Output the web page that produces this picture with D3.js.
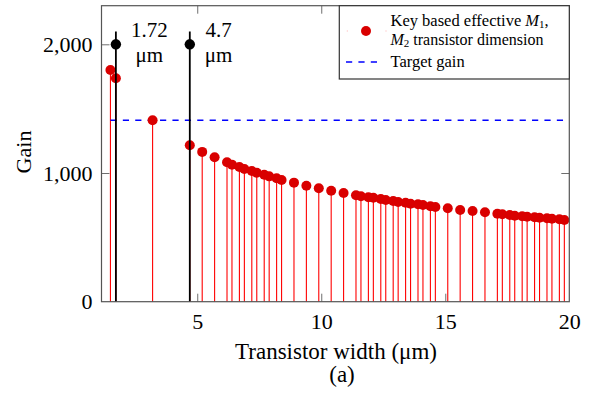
<!DOCTYPE html>
<html>
<head>
<meta charset="utf-8">
<script src="https://cdn.jsdelivr.net/npm/d3@7"></script>
<style>
  body { margin: 0; background: #fff; }
  svg { display: block; }
  text { font-family: "Liberation Serif", "Times New Roman", serif; fill: #000; }
</style>
</head>
<body>
<div class="chart"></div>
<script>
// transistor widths (um) and gains
const widths = [1.5, 1.72, 3.2, 4.7, 5.2, 5.7, 6.2, 6.4, 6.7, 6.9, 7.2, 7.4, 7.7, 7.9, 8.2, 8.4,
  8.9, 9.4, 9.9, 10.4, 10.9, 11.4, 11.6, 11.9, 12.1, 12.4, 12.6, 12.9, 13.1, 13.4, 13.6, 13.9,
  14.1, 14.4, 14.6, 15.1, 15.6, 16.1, 16.6, 17.1, 17.3, 17.6, 17.8, 18.1, 18.3, 18.6, 18.8,
  19.1, 19.3, 19.6, 19.8];
const gains = [1800, 1736, 1410, 1215, 1164, 1122, 1083, 1065, 1047, 1031, 1016, 1002, 987, 974, 959, 946,
  925, 901, 881, 862, 845, 827, 819, 811, 808, 798, 790, 782, 775, 769, 761, 757,
  751, 741, 736, 726, 713, 705, 695, 684, 679, 674, 668, 664, 660, 656, 653,
  648, 645, 640, 635];
const targetGain = 1410;
// chosen widths (black stems)
const keyWidths = [1.72, 4.7];
const keyLabels = ['1.72', '4.7'];
const keyMarkGain = 2000;
const keyStemTop = 2100;
const xTicks = [5, 10, 15, 20];
const yTicks = [0, 1000, 2000];

const W = 589, H = 393;
const mLeft = 101.5, mRight = 569.3, mTop = 5.7, mBottom = 301.7;

const svg = d3.select('.chart').append('svg').attr('width', W).attr('height', H);

const x = d3.scaleLinear().domain([1.14, 20]).range([mLeft, mRight]);
const y = d3.scaleLinear().domain([0, 2300]).range([mBottom, mTop]);

const data = widths.map((w, i) => ({w: w, g: gains[i]}));

// red stems
svg.append('g').selectAll('line').data(data).enter().append('line')
  .attr('x1', d => x(d.w)).attr('x2', d => x(d.w))
  .attr('y1', y(0)).attr('y2', d => y(d.g))
  .attr('stroke', '#ff0000').attr('stroke-width', 1.1);

// target gain line
svg.append('line')
  .attr('x1', x(widths[0])).attr('x2', x(widths[widths.length - 1]))
  .attr('y1', y(targetGain)).attr('y2', y(targetGain))
  .attr('stroke', '#0000ff').attr('stroke-width', 1.5)
  .attr('stroke-dasharray', '6.2,6.2');

// red markers
svg.append('g').selectAll('circle').data(data).enter().append('circle')
  .attr('cx', d => x(d.w)).attr('cy', d => y(d.g)).attr('r', 5)
  .attr('fill', '#d90000');

// black stems + marks
const keys = svg.append('g');
keys.selectAll('line').data(keyWidths).enter().append('line')
  .attr('x1', d => x(d)).attr('x2', d => x(d))
  .attr('y1', y(0)).attr('y2', y(keyStemTop))
  .attr('stroke', '#000').attr('stroke-width', 1.8);
keys.selectAll('circle').data(keyWidths).enter().append('circle')
  .attr('cx', d => x(d)).attr('cy', y(keyMarkGain)).attr('r', 5.2)
  .attr('fill', '#000');

keyWidths.forEach((k, i) => {
  const g = svg.append('g');
  const t1 = g.append('text').attr('y', 36.5).attr('font-size', 21).text(keyLabels[i]);
  const t2 = g.append('text').attr('y', 61.5).attr('font-size', 21).text('μm');
  const wMax = Math.max(t1.node().getComputedTextLength(), t2.node().getComputedTextLength());
  const cx = x(k) + 15 + wMax / 2;
  t1.attr('x', cx).attr('text-anchor', 'middle');
  t2.attr('x', cx).attr('text-anchor', 'middle');
});

// axes
const tickColor = '#6e6e6e';
const xAxisB = d3.axisBottom(x).tickValues(xTicks).tickSizeInner(-8).tickSizeOuter(0).tickPadding(12);
const xAxisT = d3.axisTop(x).tickValues(xTicks).tickSizeInner(-8).tickSizeOuter(0).tickFormat('');
const yAxisL = d3.axisLeft(y).tickValues(yTicks).tickSizeInner(-8).tickSizeOuter(0).tickPadding(9)
  .tickFormat(d3.format(','));
const yAxisR = d3.axisRight(y).tickValues(yTicks).tickSizeInner(-8).tickSizeOuter(0).tickFormat('');

const gxb = svg.append('g').attr('transform', `translate(0,${mBottom})`).call(xAxisB);
const gxt = svg.append('g').attr('transform', `translate(0,${mTop})`).call(xAxisT);
const gyl = svg.append('g').attr('transform', `translate(${mLeft},0)`).call(yAxisL);
const gyr = svg.append('g').attr('transform', `translate(${mRight},0)`).call(yAxisR);
[gxb, gxt, gyl, gyr].forEach(g => {
  g.select('.domain').remove();
  g.selectAll('.tick line').attr('stroke', tickColor).attr('stroke-width', 1);
  g.selectAll('text').attr('font-family', '"Liberation Serif", serif').attr('font-size', 22).attr('fill', '#000');
});
// hide ticks that sit on the frame
gxb.selectAll('.tick').filter(d => d === 20).select('line').remove();
gxt.selectAll('.tick').filter(d => d === 20).select('line').remove();
gyl.selectAll('.tick').filter(d => d === 0).select('line').remove();
gyr.selectAll('.tick').filter(d => d === 0).select('line').remove();

// frame
svg.append('rect')
  .attr('x', mLeft).attr('y', mTop).attr('width', mRight - mLeft).attr('height', mBottom - mTop)
  .attr('fill', 'none').attr('stroke', '#555').attr('stroke-width', 1.2);

// axis titles
svg.append('text').attr('x', 336).attr('y', 359).attr('text-anchor', 'middle')
  .attr('font-size', 23).text('Transistor width (μm)');
svg.append('text').attr('x', 342).attr('y', 382).attr('text-anchor', 'middle')
  .attr('font-size', 23).text('(a)');
svg.append('text').attr('transform', 'translate(31,152) rotate(-90)').attr('text-anchor', 'middle')
  .attr('font-size', 22).text('Gain');

// legend
const lg = svg.append('g');
lg.append('rect').attr('x', 339.3).attr('y', mTop).attr('width', mRight - 339.3).attr('height', 79 - mTop)
  .attr('fill', '#fff').attr('stroke', '#333').attr('stroke-width', 1.2);
lg.append('circle').attr('cx', 366).attr('cy', 31).attr('r', 5).attr('fill', '#d90000');
[347.3, 386].forEach(px => lg.append('rect').attr('x', px - 0.5).attr('y', 30.5).attr('width', 1).attr('height', 1)
  .attr('fill', '#ffb0b0'));
const lt1 = lg.append('text').attr('x', 390.5).attr('y', 26).attr('font-size', 16.5);
lt1.append('tspan').text('Key based effective ');
lt1.append('tspan').attr('font-style', 'italic').text('M');
lt1.append('tspan').attr('font-size', 11).attr('dy', 2).text('1');
lt1.append('tspan').attr('dy', -2).text(',');
const lt2 = lg.append('text').attr('x', 390.5).attr('y', 45).attr('font-size', 16);
lt2.append('tspan').attr('font-style', 'italic').text('M');
lt2.append('tspan').attr('font-size', 11).attr('dy', 2).text('2');
lt2.append('tspan').attr('dy', -2).text(' transistor dimension');
lg.append('line').attr('x1', 346).attr('x2', 381).attr('y1', 62).attr('y2', 62)
  .attr('stroke', '#0000ff').attr('stroke-width', 1.5).attr('stroke-dasharray', '6.2,6.2');
lg.append('text').attr('x', 390.5).attr('y', 66.5).attr('font-size', 16.5).text('Target gain');
</script>
</body>
</html>
